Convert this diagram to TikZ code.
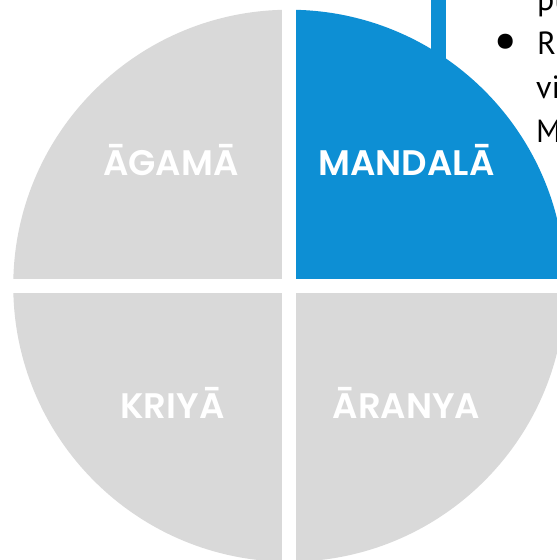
\documentclass[tikz,border=0pt]{standalone}
\usepackage{fontspec}
\usepackage{tikz}
\usetikzlibrary{positioning}
\newfontfamily\quadfont{Poppins}[BoldFont={* SemiBold}]
\newfontfamily\notefont{PT Sans}
\definecolor{pieblue}{RGB}{13,143,212}
\definecolor{piegray}{RGB}{217,217,217}
\tikzstyle{quadrant} = [fill=piegray]
\tikzstyle{picked} = [fill=pieblue]
\tikzstyle{gap} = [draw=white, line width=14pt]
\tikzstyle{quadlabel} = [text=white, inner sep=0pt, text height=26pt, text depth=0pt, font=\quadfont\bfseries\fontsize{35.5}{35.5}\selectfont]
\tikzstyle{noteline} = [anchor=base west, inner sep=0pt, font=\notefont\fontsize{32}{32}\selectfont]
\tikzstyle{leadbar} = [draw=pieblue, line width=15pt]

\begin{document}
\begin{tikzpicture}[x=1pt, y=1pt, node distance=243pt]
\useasboundingbox (0,0) rectangle (557,560);
\coordinate (hub) at (289.25,274.25);

% the four quarters
\fill[quadrant] (hub) -- +(180:276pt) arc[start angle=180, end angle=90, radius=276pt] -- cycle;
\fill[picked] (hub) -- +(90:276pt) arc[start angle=90, end angle=0, radius=276pt] -- cycle;
\fill[quadrant] (hub) -- +(0:276pt) arc[start angle=0, end angle=-90, radius=276pt] -- cycle;
\fill[quadrant] (hub) -- +(270:276pt) arc[start angle=270, end angle=180, radius=276pt] -- cycle;
\draw[gap] (289.25,-10) -- (289.25,570);
\draw[gap] (-10,274.25) -- (570,274.25);

\node (agama) [quadlabel] at (171,397) {ĀGAMĀ};
\node (mandala) [quadlabel, right of=agama, xshift=-7.5pt] {MANDALĀ};
\node (kriya) [quadlabel, below of=agama, xshift=1.5pt] {KRIYĀ};
\node (aranya) [quadlabel, below of=mandala] {ĀRANYA};

% leader up to the notes
\coordinate (leadfoot) at (438.5,480);
\coordinate (leadtop) at (438.5,575);
\draw[leadbar] (leadfoot) -- (leadtop);

\node (notepu) [noteline] at (537,549) {pu};
\node (bullet) [noteline, anchor=base, font=\notefont\fontsize{54}{54}\selectfont] at (506,501) {•};
\node (notera) [noteline] at (537,505) {Ra};
\node (notevi) [noteline] at (536,461) {vi};
\node (noteme) [noteline] at (536,417) {Me};
\end{tikzpicture}
\end{document}
